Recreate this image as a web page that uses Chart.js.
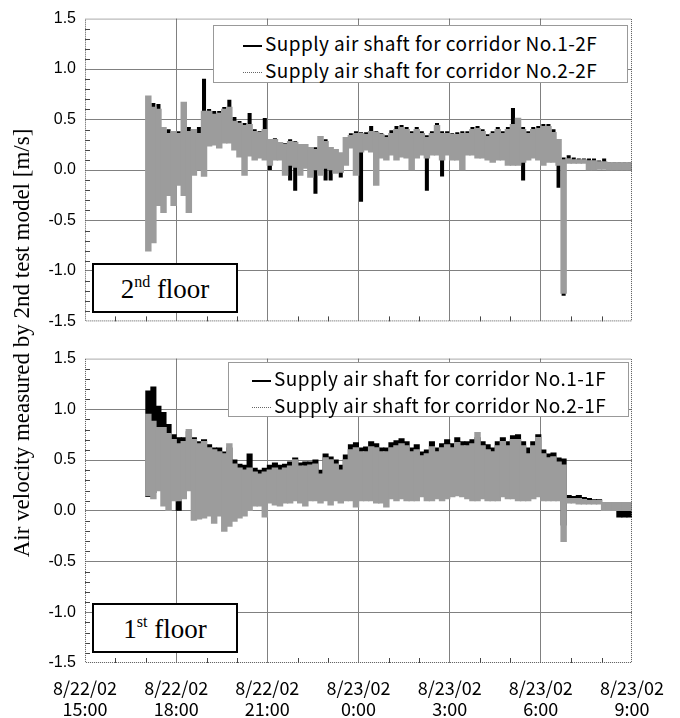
<!DOCTYPE html>
<html>
<head>
<meta charset="utf-8">
<script src="https://cdn.jsdelivr.net/npm/chart.js@4.4.1/dist/chart.umd.min.js"></script>
<style>
  body { margin: 0; background: #fff; width: 680px; height: 718px; position: relative; overflow: hidden; }
  .panel { position: absolute; left: 0; width: 680px; }
  #p2 { top: 0; height: 340px; }
  #p1 { top: 340px; height: 378px; }
  .legend { position: absolute; background: #fff; border: 1px solid #999; box-sizing: border-box;
            font-family: "Noto Sans CJK JP", sans-serif; font-size: 19px; letter-spacing: 0.45px; color: #000; }
  .legend .row { position: absolute; height: 22px; line-height: 22px; white-space: nowrap; }
  .legend .swatch { display: inline-block; width: 19px; height: 0; vertical-align: middle; margin-right: 3px; }
  .floor { position: absolute; left: 92px; width: 146px; height: 50px; box-sizing: border-box;
           border: 2px solid #000; background: #fff; text-align: center;
           font-family: "Liberation Serif", "Times New Roman", serif; font-size: 27px; line-height: 48px; }
  .floor sup { font-size: 16px; line-height: 0; vertical-align: 11px; }
  #ytitle { position: absolute; left: -218px; top: 330px; width: 480px; height: 26px; line-height: 26px;
            text-align: center; transform: rotate(-90deg);
            font-family: "Liberation Serif", "Times New Roman", serif; font-size: 23px; }
</style>
</head>
<body>
<div class="panel" id="p2"><canvas id="c2"></canvas></div>
<div class="panel" id="p1"><canvas id="c1"></canvas></div>
<div id="ytitle">Air velocity measured by 2nd test model [m/s]</div>
<div class="legend" id="leg2" style="left:213px;top:25px;width:415px;height:58px"></div>
<div class="legend" id="leg1" style="left:228px;top:362px;width:401px;height:55px"></div>
<div class="floor" style="top:263px">2<sup>nd</sup> floor</div>
<div class="floor" style="top:603px">1<sup>st</sup> floor</div>
<script>
// ── Axis: hours after 8/22/02 15:00 ─────────────────────────────────
const X_TICK_LABELS = [
  ['8/22/02', '15:00'], ['8/22/02', '18:00'], ['8/22/02', '21:00'],
  ['8/23/02', '0:00'], ['8/23/02', '3:00'], ['8/23/02', '6:00'], ['8/23/02', '9:00'],
];
const SERIES_2F = ['Supply air shaft for corridor No.1-2F', 'Supply air shaft for corridor No.2-2F'];
const SERIES_1F = ['Supply air shaft for corridor No.1-1F', 'Supply air shaft for corridor No.2-1F'];

// records start 17:00, 10-minute bins, max / min of each bin [m/s]
const BIN_START_HOUR = 2;
const BIN_MINUTES = 10;

// ── 2nd floor ──
const F2_NO1_MAX = [0.65,0.66,0.65,0.38,0.40,0.36,0.38,0.40,0.42,0.38, 0.42,0.90,0.60,0.58,0.58,0.62,0.69,0.52,0.48,0.46,
  0.56,0.40,0.38,0.51,0.28,0.31,0.25,0.26,0.30,0.28, 0.24,0.23,0.22,0.22,0.30,0.30,0.22,0.18,0.16,0.30,
  0.36,0.38,0.37,0.37,0.43,0.38,0.36,0.34,0.39,0.43, 0.44,0.42,0.38,0.42,0.38,0.34,0.38,0.46,0.38,0.38,
  0.36,0.37,0.38,0.38,0.42,0.43,0.40,0.35,0.38,0.42, 0.38,0.42,0.61,0.45,0.42,0.38,0.42,0.43,0.45,0.45,
  0.40,0.28,0.12,0.14,0.12,0.11,0.11,0.11,0.11,0.09, 0.11,0.07,0.07,0.07,0.07,0.07];
const F2_NO1_MIN = [-0.50,-0.30,-0.20,-0.10,0.00,0.05,0.10,0.10,0.15,0.15, 0.20,0.25,0.35,0.35,0.35,0.35,0.35,0.30,0.30,0.25,
  0.25,0.20,0.20,0.20,0.00,0.15,0.15,0.12,-0.10,-0.20, 0.10,0.10,0.08,-0.23,0.10,-0.10,-0.10,-0.02,-0.07,0.10,
  0.25,0.22,-0.31,0.25,0.25,0.25,0.20,0.20,0.20,0.20, 0.20,0.20,0.20,0.20,0.20,-0.20,0.20,0.20,-0.06,0.20,
  0.20,0.20,0.20,0.20,0.20,0.20,0.20,0.20,0.20,0.20, 0.20,0.20,0.20,0.20,-0.10,0.20,0.20,0.20,0.20,0.20,
  0.20,-0.17,-1.24,0.09,0.09,0.09,0.09,0.09,0.09,0.05, 0.05,0.03,0.03,0.03,0.03,0.03];
const F2_NO2_MAX = [0.73,0.62,0.60,0.42,0.36,0.38,0.36,0.67,0.38,0.40, 0.36,0.58,0.58,0.55,0.56,0.60,0.62,0.48,0.46,0.44,
  0.45,0.38,0.37,0.40,0.30,0.30,0.27,0.25,0.28,0.27, 0.25,0.25,0.22,0.20,0.33,0.28,0.22,0.20,0.17,0.32,
  0.34,0.36,0.36,0.35,0.38,0.37,0.35,0.32,0.36,0.40, 0.42,0.40,0.36,0.40,0.36,0.32,0.36,0.44,0.36,0.36,
  0.35,0.35,0.36,0.36,0.40,0.41,0.38,0.33,0.36,0.40, 0.36,0.40,0.45,0.51,0.40,0.36,0.40,0.41,0.43,0.43,
  0.37,0.30,0.10,0.11,0.10,0.10,0.10,0.09,0.09,0.08, 0.08,0.07,0.07,0.07,0.07,0.07];
const F2_NO2_MIN = [-0.80,-0.72,-0.35,-0.42,-0.25,-0.35,-0.15,-0.25,-0.42,-0.05, 0.00,-0.06,0.24,0.25,0.22,0.27,0.27,0.20,0.13,-0.05,
  0.14,0.10,0.12,0.10,0.05,0.10,0.10,-0.05,0.05,0.03, -0.05,0.02,-0.07,0.00,-0.05,0.02,0.00,-0.03,-0.02,0.05,
  0.22,-0.05,0.18,0.20,0.18,-0.15,0.12,0.10,0.15,0.10, 0.13,0.12,0.00,0.12,0.15,0.12,0.15,0.15,0.10,0.15,
  0.10,0.10,0.00,0.15,0.15,0.12,0.12,0.10,0.08,0.10, 0.10,0.05,0.05,0.05,0.08,0.10,0.12,0.10,0.05,0.08,
  0.08,0.05,-1.22,0.07,0.07,0.07,0.07,0.00,0.00,0.01, 0.01,0.00,0.00,0.00,0.00,0.00];

// ── 1st floor ──
const F1_NO1_MAX = [1.18,1.22,1.03,0.97,0.85,0.75,0.72,0.72,0.78,0.72, 0.68,0.70,0.65,0.62,0.62,0.58,0.62,0.50,0.46,0.45,
  0.56,0.42,0.40,0.42,0.45,0.47,0.45,0.46,0.48,0.52, 0.47,0.48,0.48,0.50,0.40,0.56,0.53,0.50,0.45,0.55,
  0.65,0.67,0.62,0.63,0.68,0.66,0.62,0.62,0.67,0.69, 0.71,0.68,0.62,0.65,0.58,0.60,0.68,0.62,0.66,0.70,
  0.66,0.72,0.68,0.68,0.70,0.72,0.68,0.65,0.62,0.68, 0.72,0.68,0.74,0.75,0.68,0.62,0.68,0.75,0.60,0.56,
  0.57,0.52,0.51,0.15,0.14,0.15,0.13,0.12,0.11,0.11, 0.08,0.07,0.07,0.00,0.00,0.00];
const F1_NO1_MIN = [0.14,0.18,0.20,0.30,0.40,0.18,0.00,0.30,0.45,0.45, 0.45,0.45,0.45,0.45,0.45,0.45,0.45,0.40,0.35,0.33,
  0.33,0.33,0.30,0.32,0.35,0.35,0.35,0.35,0.38,0.38, 0.38,0.38,0.38,0.38,0.30,0.40,0.40,0.38,0.35,0.40,
  0.45,0.45,0.45,0.45,0.45,0.45,0.45,0.45,0.45,0.45, 0.45,0.45,0.45,0.45,0.40,0.45,0.45,0.45,0.45,0.45,
  0.45,0.45,0.45,0.45,0.45,0.45,0.45,0.45,0.45,0.45, 0.45,0.45,0.45,0.45,0.45,0.45,0.45,0.45,0.40,0.40,
  0.40,0.40,-0.14,0.10,0.10,0.10,0.10,0.09,0.09,0.09, 0.02,0.02,0.02,-0.06,-0.06,-0.06];
const F1_NO2_MAX = [0.95,0.88,0.82,0.82,0.76,0.70,0.66,0.68,0.80,0.70, 0.66,0.68,0.62,0.60,0.58,0.56,0.66,0.46,0.42,0.40,
  0.42,0.38,0.36,0.38,0.40,0.42,0.40,0.42,0.44,0.50, 0.44,0.44,0.45,0.46,0.36,0.52,0.50,0.46,0.40,0.50,
  0.60,0.62,0.58,0.58,0.63,0.62,0.58,0.58,0.62,0.64, 0.66,0.64,0.58,0.60,0.54,0.56,0.63,0.58,0.62,0.65,
  0.62,0.67,0.64,0.64,0.66,0.77,0.64,0.60,0.58,0.64, 0.68,0.64,0.70,0.70,0.64,0.56,0.64,0.72,0.56,0.52,
  0.53,0.48,0.45,0.12,0.12,0.12,0.11,0.10,0.10,0.10, 0.08,0.08,0.08,0.08,0.08,0.08];
const F1_NO2_MIN = [0.15,0.12,0.20,0.05,0.00,0.10,0.10,0.12,0.20,-0.09, -0.08,-0.07,-0.05,-0.12,-0.05,-0.20,-0.15,-0.10,-0.07,-0.05,
  0.00,0.05,0.05,-0.06,0.08,0.06,0.05,0.08,0.08,0.10, 0.08,0.05,0.10,0.10,0.08,0.10,0.06,0.10,0.08,0.10,
  0.10,0.04,0.10,0.10,0.10,0.08,0.08,0.04,0.12,0.10, 0.12,0.10,0.10,0.10,0.14,0.10,0.10,0.12,0.10,0.12,
  0.14,0.15,0.14,0.12,0.10,0.10,0.12,0.10,0.10,0.10, 0.14,0.12,0.12,0.10,0.10,0.10,0.12,0.14,0.10,0.10,
  0.10,0.10,-0.30,0.08,0.08,0.07,0.07,0.07,0.07,0.07, 0.00,0.00,0.00,0.00,0.00,0.00];

const BIN_X = F2_NO1_MAX.map((_, i) => BIN_START_HOUR + (i + 0.5) * BIN_MINUTES / 60);

// ── Legends (HTML) ───────────────────────────────────────────────────
function buildLegend(id, names, swX, rowYs) {
  const el = document.getElementById(id);
  const styles = ['border-top:2px solid #000', 'border-top:1px dotted #666'];
  names.forEach((name, k) => {
    const row = document.createElement('div');
    row.className = 'row';
    row.style.left = swX + 'px';
    row.style.top = (rowYs[k] - 11) + 'px';
    row.innerHTML = `<span class="swatch" style="${styles[k]}"></span>${name}`;
    el.appendChild(row);
  });
}
buildLegend('leg2', SERIES_2F, 29, [17, 44]);
buildLegend('leg1', SERIES_1F, 23, [15, 42]);

// grey of the dense dotted record
const GREY_FILL = '#9c9c9c';

// ── Frame + minor ticks ──────────────────────────────────────────────
const framePlugin = {
  id: 'frame',
  afterDraw(chart) {
    const { ctx, chartArea: a, scales: { x, y } } = chart;
    ctx.save();
    ctx.strokeStyle = '#444';
    ctx.lineWidth = 1;
    ctx.beginPath();
    for (let v = -14; v <= 14; v++) {
      if (v % 5 === 0) continue;
      const py = Math.round(y.getPixelForValue(v / 10)) + 0.5;
      ctx.moveTo(a.left, py); ctx.lineTo(a.left + 5, py);
    }
    for (let h = 1; h < 18; h++) {
      if (h % 3 === 0) continue;
      const px = Math.round(x.getPixelForValue(h)) + 0.5;
      ctx.moveTo(px, a.bottom); ctx.lineTo(px, a.bottom - 5);
    }
    ctx.stroke();
    ctx.setLineDash([1, 1]);
    ctx.strokeStyle = '#555';
    ctx.strokeRect(a.left + 0.5, a.top + 0.5, a.width - 1, a.height - 1);
    ctx.restore();
  },
};

// no grid line on the frame edges (the frame is drawn dotted)
const gridColor = (edgeA, edgeB) => c => {
  if (!c.tick) return '#808080';
  const v = c.tick.value;
  return (Math.abs(v - edgeA) < 1e-6 || Math.abs(v - edgeB) < 1e-6) ? 'rgba(0,0,0,0)' : '#808080';
};

function makePanel(canvasId, no1Max, no1Min, no2Max, no2Min, showX, padding, blackWidth) {
  const toBars = (lo, hi) => BIN_X.map((x, i) => ({ x, y: [lo[i], hi[i]] }));
  return new Chart(document.getElementById(canvasId), {
    type: 'bar',
    data: {
      datasets: [
        { label: 'No.2', data: toBars(no2Min, no2Max), backgroundColor: GREY_FILL, order: 0,
          barPercentage: 1, inflateAmount: 0.7 },
        { label: 'No.1', data: toBars(no1Min, no1Max), backgroundColor: '#000', order: 1,
          barPercentage: blackWidth, inflateAmount: 0.5 },
      ],
    },
    options: {
      responsive: true,
      maintainAspectRatio: false,
      animation: false,
      events: [],
      layout: { padding },
      datasets: { bar: { categoryPercentage: 1, grouped: false, borderWidth: 0 } },
      plugins: { legend: { display: false }, tooltip: { enabled: false } },
      scales: {
        x: {
          type: 'linear', min: 0, max: 18, offset: false,
          grid: { color: gridColor(0, 18), drawTicks: false, offset: false },
          border: { display: false },
          ticks: {
            display: showX, stepSize: 3, maxRotation: 0, padding: 14, color: '#000',
            font: { family: '"Noto Sans CJK JP", sans-serif', size: 18, lineHeight: 1.2 },
            callback: v => X_TICK_LABELS[Math.round(v / 3)],
          },
          afterFit: s => { s.height = showX ? 55 : 0; },
        },
        y: {
          min: -1.5, max: 1.5,
          grid: { color: gridColor(-1.5, 1.5), drawTicks: false },
          border: { display: false },
          ticks: {
            stepSize: 0.5, padding: 9, color: '#000',
            font: { family: '"Liberation Sans", Arial, sans-serif', size: 16 },
            callback: v => v.toFixed(1),
          },
          afterFit: s => { s.width = 75; },
        },
      },
    },
    plugins: [framePlugin],
  });
}

makePanel('c2', F2_NO1_MAX, F2_NO1_MIN, F2_NO2_MAX, F2_NO2_MIN, false, { left: 10, right: 48, top: 17, bottom: 15 }, 0.6);
makePanel('c1', F1_NO1_MAX, F1_NO1_MIN, F1_NO2_MAX, F1_NO2_MIN, true, { left: 10, right: 48, top: 14, bottom: 0 }, 1);
</script>
</body>
</html>
